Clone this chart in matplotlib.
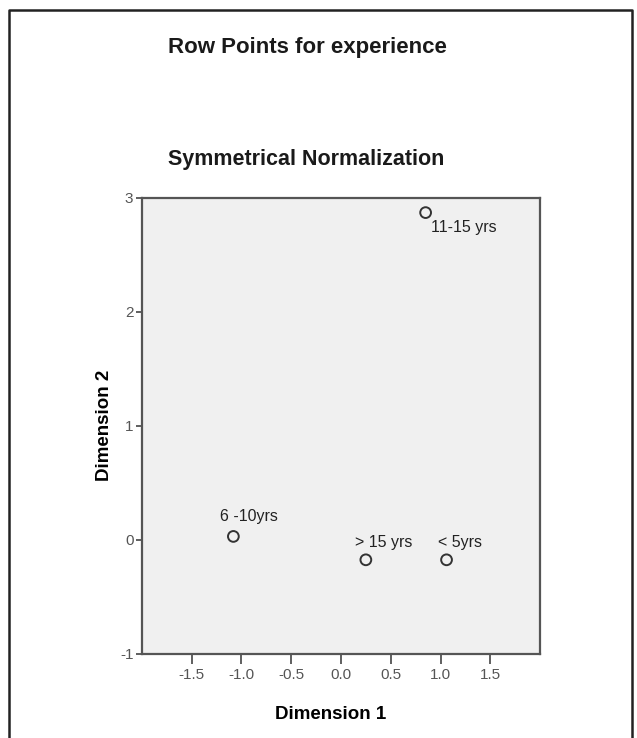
import matplotlib
matplotlib.use("Agg")
import matplotlib.pyplot as plt
from matplotlib.lines import Line2D

# row points (symmetrical normalization)
labels = ["6 -10yrs", "> 15 yrs", "< 5yrs", "11-15 yrs"]
dim1 = [-1.08, 0.25, 1.06, 0.85]
dim2 = [0.03, -0.175, -0.175, 2.87]

xticks = [-1.5, -1.0, -0.5, 0.0, 0.5, 1.0, 1.5]
yticks = [-1, 0, 1, 2, 3]

# label offsets in points (dx, dy), SPSS puts them where there is room
offsets = [(-9.5, 14), (-7.7, 12.5), (-6, 12.5), (3.6, -11)]

plt.rcParams['font.family'] = ['Liberation Sans', 'DejaVu Sans']

fig = plt.figure(figsize=(6.37, 7.38), dpi=100)
ax = fig.add_axes([0.2225, 0.114, 0.848 - 0.2225, 0.732 - 0.114])
ax.set_facecolor("#f0f0f0")

ax.scatter(dim1, dim2, s=60, facecolors="none", edgecolors="#333333", linewidths=1.4, zorder=3)
for lab, x, y, (dx, dy) in zip(labels, dim1, dim2, offsets):
    ax.annotate(lab, (x, y), xytext=(dx, dy), textcoords="offset points",
                fontsize=11.5, color="#222222", ha="left", va="center")

ax.set_xlim(-2.0, 2.0)
ax.set_ylim(-1, 3)
ax.set_xticks(xticks)
ax.set_xticklabels([f"{v:.1f}" for v in xticks])
ax.set_yticks(yticks)
ax.set_yticklabels([str(v) for v in yticks])
ax.tick_params(direction="out", width=1.2, color="#444444",
               labelsize=11, labelcolor="#555555")
ax.tick_params(axis="x", length=7.5, pad=3)
ax.tick_params(axis="y", length=4, pad=2)
for sp in ax.spines.values():
    sp.set_color("#555555")
    sp.set_linewidth(1.6)

ax.set_xlabel("Dimension 1", fontsize=13.5, fontweight="bold")
ax.set_ylabel("Dimension 2", fontsize=13.5, fontweight="bold")
ax.xaxis.set_label_coords(0.475, -0.114)
ax.yaxis.set_label_coords(-0.073, 0.5)

fig.text(0.264, 1 - 48 / 738, "Row Points for experience", fontsize=16, fontweight="bold",
         ha="left", va="center", color="#1a1a1a")
fig.text(0.264, 1 - 160 / 738, "Symmetrical Normalization", fontsize=15.5, fontweight="bold",
         ha="left", va="center", color="#1a1a1a")

# outer chart frame (open at the bottom, as in the screenshot)
frame_x = [9 / 637, 9 / 637, 632 / 637, 632 / 637]
frame_y = [0.0, 1 - 10 / 738, 1 - 10 / 738, 0.0]
fig.add_artist(Line2D(frame_x, frame_y, transform=fig.transFigure, color="#222222", linewidth=1.8))

fig.savefig("out.png", dpi=100)
